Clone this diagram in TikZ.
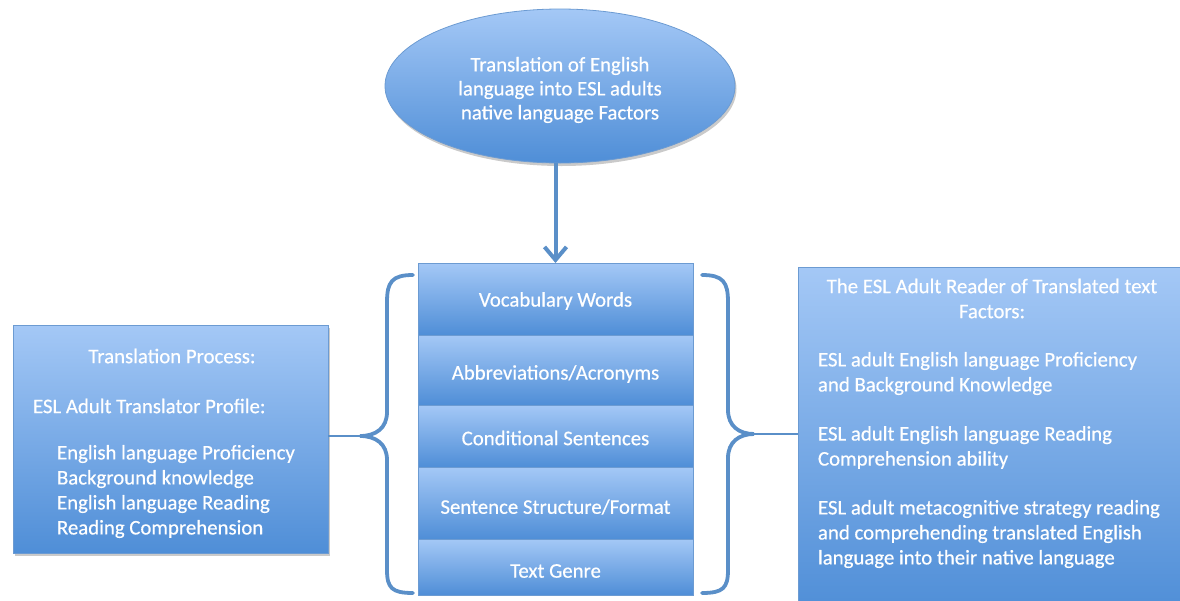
\documentclass[tikz,border=0pt]{standalone}
\usepackage{fontspec}
\setmainfont{Carlito}
\newfontfamily\labfont{Carlito}[FakeBold=0.5]
\usetikzlibrary{shapes.geometric,shadows,arrows.meta}
\definecolor{linkblue}{HTML}{5A8FC8}
\definecolor{edgeblue}{HTML}{6C9BD2}
\definecolor{topblue}{HTML}{A4C8F6}
\definecolor{botblue}{HTML}{4F8ED7}
\tikzset{
  x=1pt, y=-1pt,
  every node/.style={inner sep=0pt, outer sep=0pt},
  panel/.style={draw=edgeblue, line width=0.8pt, top color=topblue, bottom color=botblue,
    drop shadow={shadow xshift=1.5pt, shadow yshift=-3pt, opacity=0.35, fill=black!60}},
  layer/.style={draw=edgeblue, line width=0.8pt, top color=topblue, bottom color=botblue,
    minimum width=275pt},
  label/.style={text=white, font=\labfont\fontsize{20.8}{25}\selectfont},
  brace/.style={draw=linkblue, line width=3.8pt, line cap=round},
  link/.style={draw=linkblue, line width=1.2pt},
}
\begin{document}
\begin{tikzpicture}
\useasboundingbox (0,0) rectangle (1180,600);

% top ellipse
\node[panel, ellipse, minimum width=350pt, minimum height=154pt] (goal) at (560,86) {};
\node[label, align=center, font=\labfont\fontsize{20.8}{24}\selectfont] (goaltext) at (560,90)
  {Translation of English\\language into ESL adults\\native language Factors};

% central stack of factors
\node[layer, minimum height=72pt] (l1) at (555.5,299) {};
\node[layer, minimum height=70pt] (l2) at (555.5,370) {};
\node[layer, minimum height=62pt] (l3) at (555.5,436) {};
\node[layer, minimum height=72pt] (l4) at (555.5,503) {};
\node[layer, minimum height=56pt] (l5) at (555.5,567) {};
\node[label] (t1) at (555.5,301) {Vocabulary Words};
\node[label] (t2) at (555.5,374) {Abbreviations/Acronyms};
\node[label] (t3) at (555.5,438) {Conditional Sentences};
\node[label] (t4) at (555.5,507) {Sentence Structure/Format};
\node[label] (t5) at (555.5,571) {Text Genre};

% arrow from ellipse to stack
\draw[draw=linkblue, line width=4pt, -{Straight Barb[length=13pt,width=22pt,line width=4pt]}]
  (goal.south -| l1.north) -- (l1.north);

% braces
\coordinate (ltip) at (360,436);
\coordinate (rtip) at (754,434);
\draw[brace] (413,275) .. controls (392,275) and (387,282) .. (387,302)
  -- (387,412) .. controls (387,428) and (376,436) .. (ltip)
  .. controls (376,436) and (387,444) .. (387,460)
  -- (387,570) .. controls (387,588) and (392,593) .. (413,593);
\draw[brace] (702,275) .. controls (723,275) and (728,282) .. (728,302)
  -- (728,410) .. controls (728,426) and (739,434) .. (rtip)
  .. controls (739,434) and (728,442) .. (728,458)
  -- (728,570) .. controls (728,588) and (723,593) .. (702,593);

% left panel
\node[panel, minimum width=315pt, minimum height=228pt] (left) at (170.5,439) {};
\node[label] (lt1) at (172,356) {Translation Process:};
\node[label, anchor=west] (lt2) at (33,406) {ESL Adult Translator Profile:};
\node[label, anchor=west, align=left] (lt3) at (57,491.5)
  {English language Proficiency\\Background knowledge\\English language Reading\\Reading Comprehension};

% right panel
\node[panel, minimum width=382pt, minimum height=345pt] (right) at (989,439.5) {};
\node[label, align=center] (rt1) at (992,298.5) {The ESL Adult Reader of Translated text\\Factors:};
\node[label, anchor=west, align=left] (rt2) at (818,373.5)
  {ESL adult English language Proficiency\\and Background Knowledge};
\node[label, anchor=west, align=left] (rt3) at (818,447.5)
  {ESL adult English language Reading\\Comprehension ability};
\node[label, anchor=west, align=left] (rt4) at (818,534)
  {ESL adult metacognitive strategy reading\\and comprehending translated English\\language into their native language};

% connectors from panels to braces
\draw[link] (left.east |- ltip) -- (ltip);
\draw[link] (rtip) -- (right.west |- rtip);
\end{tikzpicture}
\end{document}
